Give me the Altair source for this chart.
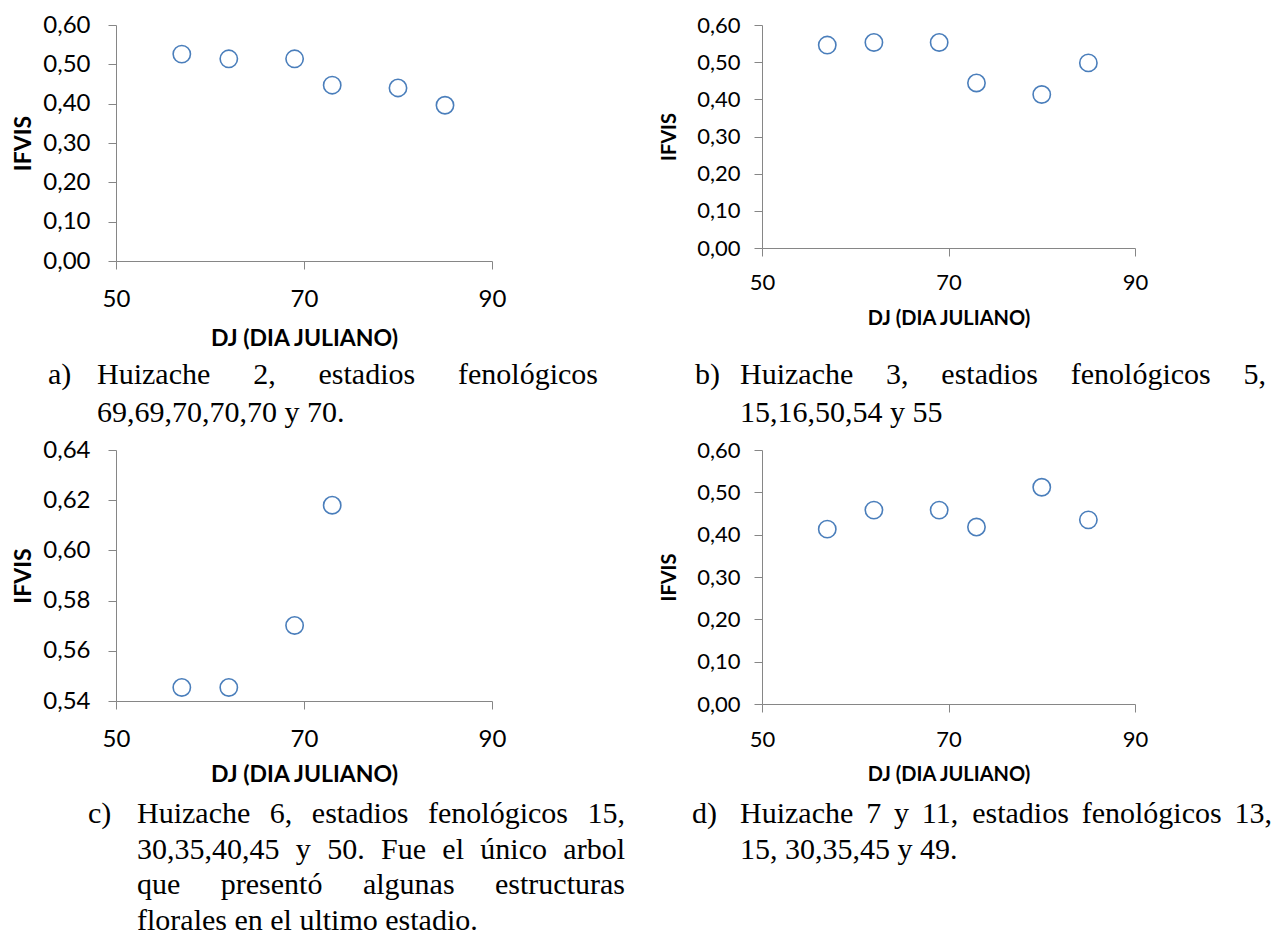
import altair as alt
import pandas as pd

# ---------------- data ----------------
DJ = [57, 62, 69, 73, 80, 85]
DJ_C = [57, 62, 69, 73]
IFVIS_A = [0.526, 0.514, 0.514, 0.447, 0.440, 0.396]
IFVIS_B = [0.546, 0.553, 0.553, 0.444, 0.413, 0.498]
IFVIS_C = [0.5454, 0.5454, 0.5701, 0.6180]
IFVIS_D = [0.413, 0.458, 0.458, 0.418, 0.512, 0.435]

X_TICKS = [50, 70, 90]
Y_TICKS = [0.0, 0.1, 0.2, 0.3, 0.4, 0.5, 0.6]
Y_TICKS_C = [0.54, 0.56, 0.58, 0.60, 0.62, 0.64]

X_TITLE = "DJ (DIA JULIANO)"
Y_TITLE = "IFVIS"

CAP_A = ["a)", "Huizache 2, estadios fenológicos", "69,69,70,70,70 y 70."]
CAP_B = ["b)", "Huizache 3, estadios fenológicos 5,", "15,16,50,54 y 55"]
CAP_C = ["c)", "Huizache 6, estadios fenológicos 15,",
         "30,35,40,45 y 50. Fue el único arbol",
         "que presentó algunas estructuras",
         "florales en el ultimo estadio."]
CAP_D = ["d)", "Huizache 7 y 11, estadios fenológicos 13,", "15, 30,35,45 y 49."]

# ---------------- styling ----------------
FONT_AX = "Lato"
FONT_CAP = "Liberation Serif"
BLUE = "#4A7EBB"
GREY = "#868686"
CAP_FS = 30

# Times / Liberation Serif advance widths (per 1000 em)
TIMES = {' ': 250, 'a': 444, 'b': 500, 'c': 444, 'd': 500, 'e': 444, 'f': 333, 'g': 500,
         'h': 500, 'i': 278, 'j': 278, 'k': 500, 'l': 278, 'm': 778, 'n': 500, 'o': 500,
         'p': 500, 'q': 500, 'r': 333, 's': 389, 't': 278, 'u': 500, 'v': 500, 'w': 722,
         'x': 500, 'y': 500, 'z': 444, 'H': 722, 'F': 556, 'ó': 500, 'ú': 500,
         ',': 250, '.': 250, ')': 333, '(': 333}


def text_width(s, fs):
    return sum(TIMES.get(ch, 500) for ch in s) / 1000.0 * fs


def caption_table(cap, ox, oy, label_x, left, right, base, step, fs):
    rows = [dict(word=cap[0], px=label_x - ox, py=base - oy)]
    lines = cap[1:]
    for i, line in enumerate(lines):
        y = base + i * step - oy
        if i == len(lines) - 1:
            rows.append(dict(word=line, px=left - ox, py=y))
        else:
            words = line.split(" ")
            ws = [text_width(w, fs) for w in words]
            gap = (right - left - sum(ws)) / (len(words) - 1)
            x = left
            for w, wd in zip(words, ws):
                rows.append(dict(word=w, px=x - ox, py=y))
                x += wd + gap
    return pd.DataFrame(rows)


def fmt_expr():
    return "replace(format(datum.value, '.2f'), '.', ',')"


def panel(xs, ys, ydom, yticks, w, h, cap_df, tick_fs, title_fs,
          x_lp, x_tp, y_lp, y_tp, anchor=False):
    df = pd.DataFrame({"DJ": xs, "IFVIS": ys})
    xaxis = alt.Axis(values=X_TICKS, format="d", title=X_TITLE, grid=False,
                     labelFont=FONT_AX, labelFontSize=tick_fs, labelColor="black",
                     labelPadding=x_lp, labelFlush=False, labelOverlap=False,
                     titleFont=FONT_AX, titleFontSize=title_fs, titleFontWeight="bold",
                     titleColor="black", titlePadding=x_tp,
                     tickSize=8, tickColor=GREY, domainColor=GREY, tickWidth=1, domainWidth=1)
    yaxis = alt.Axis(values=yticks, labelExpr=fmt_expr(), title=Y_TITLE, grid=False,
                     labelFont=FONT_AX, labelFontSize=tick_fs, labelColor="black",
                     labelPadding=y_lp, labelFlush=False, labelOverlap=False,
                     titleFont=FONT_AX, titleFontSize=title_fs, titleFontWeight="bold",
                     titleColor="black", titlePadding=y_tp,
                     tickSize=8, tickColor=GREY, domainColor=GREY, tickWidth=1, domainWidth=1)
    pts = alt.Chart(df).mark_point(shape="circle", filled=False, size=300, strokeWidth=1.6,
                                   color=BLUE, opacity=1).encode(
        x=alt.X("DJ:Q", scale=alt.Scale(domain=[50, 90], nice=False, zero=False), axis=xaxis),
        y=alt.Y("IFVIS:Q", scale=alt.Scale(domain=ydom, nice=False, zero=False), axis=yaxis),
    )
    cap = alt.Chart(cap_df).mark_text(align="left", baseline="alphabetic", font=FONT_CAP,
                                      fontSize=CAP_FS, color="black").encode(
        x=alt.X("px:Q", scale=None, axis=None),
        y=alt.Y("py:Q", scale=None, axis=None),
        text="word:N",
    )
    layers = [pts, cap]
    if anchor:
        layers.append(
            alt.Chart(pd.DataFrame({"k": [0]})).mark_rule(opacity=0).encode(
                x=alt.value(-108), x2=alt.value(-108), y=alt.value(-17), y2=alt.value(-16))
        )
    return alt.layer(*layers).properties(width=w, height=h)


# panel origins on the page (plot area top-left)
OA = (116, 25)
OB = (762, 25)
OC = (116, 450)
OD = (762, 450)

cap_a = caption_table(CAP_A, OA[0], OA[1], 48, 97, 598, 384, 38, CAP_FS)
cap_b = caption_table(CAP_B, OB[0], OB[1], 695, 740, 1266, 384, 38, CAP_FS)
cap_c = caption_table(CAP_C, OC[0], OC[1], 88, 137, 625, 823, 35.5, CAP_FS)
cap_d = caption_table(CAP_D, OD[0], OD[1], 692, 740, 1272, 823, 36, CAP_FS)

pa = panel(DJ, IFVIS_A, [0, 0.6], Y_TICKS, 376, 236, cap_a, 24, 23, 18, 16, 18, 7, anchor=True)
pb = panel(DJ, IFVIS_B, [0, 0.6], Y_TICKS, 373, 223, cap_b, 22, 20, 16, 15, 14, 17)
pc = panel(DJ_C, IFVIS_C, [0.54, 0.64], Y_TICKS_C, 376, 251, cap_c, 24, 23, 18, 12, 18, 7)
pd_ = panel(DJ, IFVIS_D, [0, 0.6], Y_TICKS, 373, 254, cap_d, 22, 20, 17, 14, 14, 17)

chart = alt.concat(pa, pb, pc, pd_, columns=2, bounds="flush", align="all",
                   spacing={"row": 450 - 25 - 254, "column": 762 - 116 - 376}).configure_view(
    stroke=None).properties(padding=0, background="white")

chart.save("out.html", embed_options={"renderer": "svg", "actions": False})
